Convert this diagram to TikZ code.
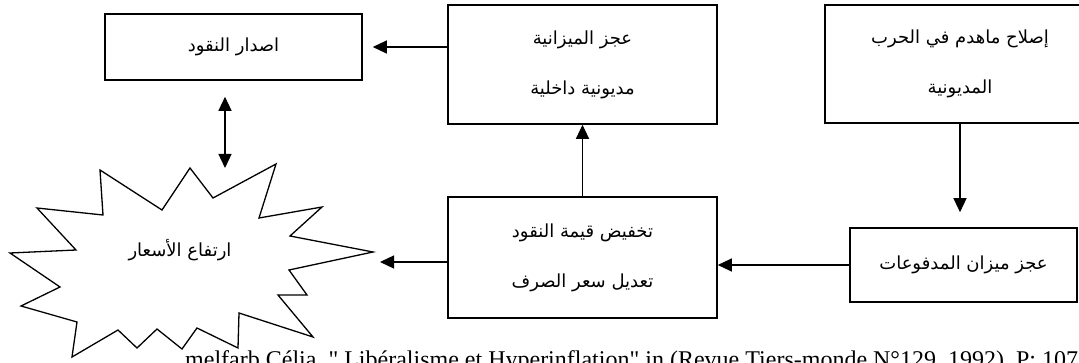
\documentclass[tikz,border=0pt]{standalone}
\usepackage{fontspec}
\setmainfont{Liberation Serif}
\newfontfamily\fnfont[Ligatures=TeXOff]{Liberation Serif}
\newfontfamily\arabicfont[Script=Arabic]{DejaVu Sans}
\TeXXeTstate=1
\usetikzlibrary{arrows.meta}
\tikzset{
  box/.style={draw, line width=1.6pt, rectangle, inner sep=0pt, align=center,
    font=\arabicfont\fontsize{18}{50}\selectfont},
  arr/.style={line width=1.3pt, -{Triangle[length=14pt,width=13pt]}},
  dblarr/.style={line width=1.3pt, {Triangle[length=14pt,width=13pt]}-{Triangle[length=14pt,width=13pt]}},
  startxt/.style={font=\arabicfont\fontsize{18}{20}\selectfont},
}
\begin{document}
\begin{tikzpicture}[x=1pt,y=-1pt]
\useasboundingbox (0,0) rectangle (1079,363);
\clip (0,0) rectangle (1079,363);
\fill[white] (0,0) rectangle (1079,363);

\node[box, minimum width=257pt, minimum height=66pt] (b1) at (233.5,47)
  {\beginR اصدار النقود\endR};
\node[box, minimum width=269pt, minimum height=119pt] (b2) at (582.5,64.5)
  {\beginR عجز الميزانية\endR\\\beginR مديونية داخلية\endR};
\node[box, minimum width=270pt, minimum height=118pt] (b3) at (960,64)
  {\beginR إصلاح ماهدم في الحرب\endR\\\beginR المديونية\endR};
\node[box, minimum width=227pt, minimum height=74pt] (b4) at (963.5,265)
  {\beginR عجز ميزان المدفوعات\endR};
\node[box, minimum width=269pt, minimum height=121pt] (b5) at (582.5,257.5)
  {\beginR تخفيض قيمة النقود\endR\\\beginR تعديل سعر الصرف\endR};

% star
\draw[line width=1.3pt, line join=miter]
  (100,170) -- (162,210) -- (190,168) -- (213,198) -- (276,164) -- (259,218)
  -- (322,207) -- (290,236) -- (373,252) -- (289,270) -- (307,295) -- (278,295)
  -- (313,337) -- (239,313) -- (238,348) -- (197,328) -- (182,349) -- (157,329)
  -- (137,348) -- (118,330) -- (72,357) -- (77,322) -- (21,306) -- (60,287)
  -- (10,253) -- (76,250) -- (37,208) -- (103,215) -- cycle;
\node[startxt] (star) at (180,250) {\beginR ارتفاع الأسعار\endR};

\coordinate (st) at (380,262);
\coordinate (dt) at (225,168);

\draw[arr, shorten >=10pt] (b2.west |- b1.east) -- (b1.east);
\draw[arr, shorten >=15pt] (b3.south) -- (b3.south |- b4.north);
\draw[arr] (b4.west) -- (b5.east |- b4.west);
\draw[arr] (b5.north) -- (b2.south);
\draw[arr] (b5.west |- st) -- (st);
\draw[dblarr, shorten <=16pt] (b1.south -| dt) -- (dt);

\node[anchor=base west, inner sep=0pt, font=\fnfont\fontsize{24}{28}\selectfont] (fn) at (185,367)
  {melfarb Célia, " Libéralisme et Hyperinflation" in (Revue Tiers-monde N°129, 1992), P: 107};
\end{tikzpicture}
\end{document}
